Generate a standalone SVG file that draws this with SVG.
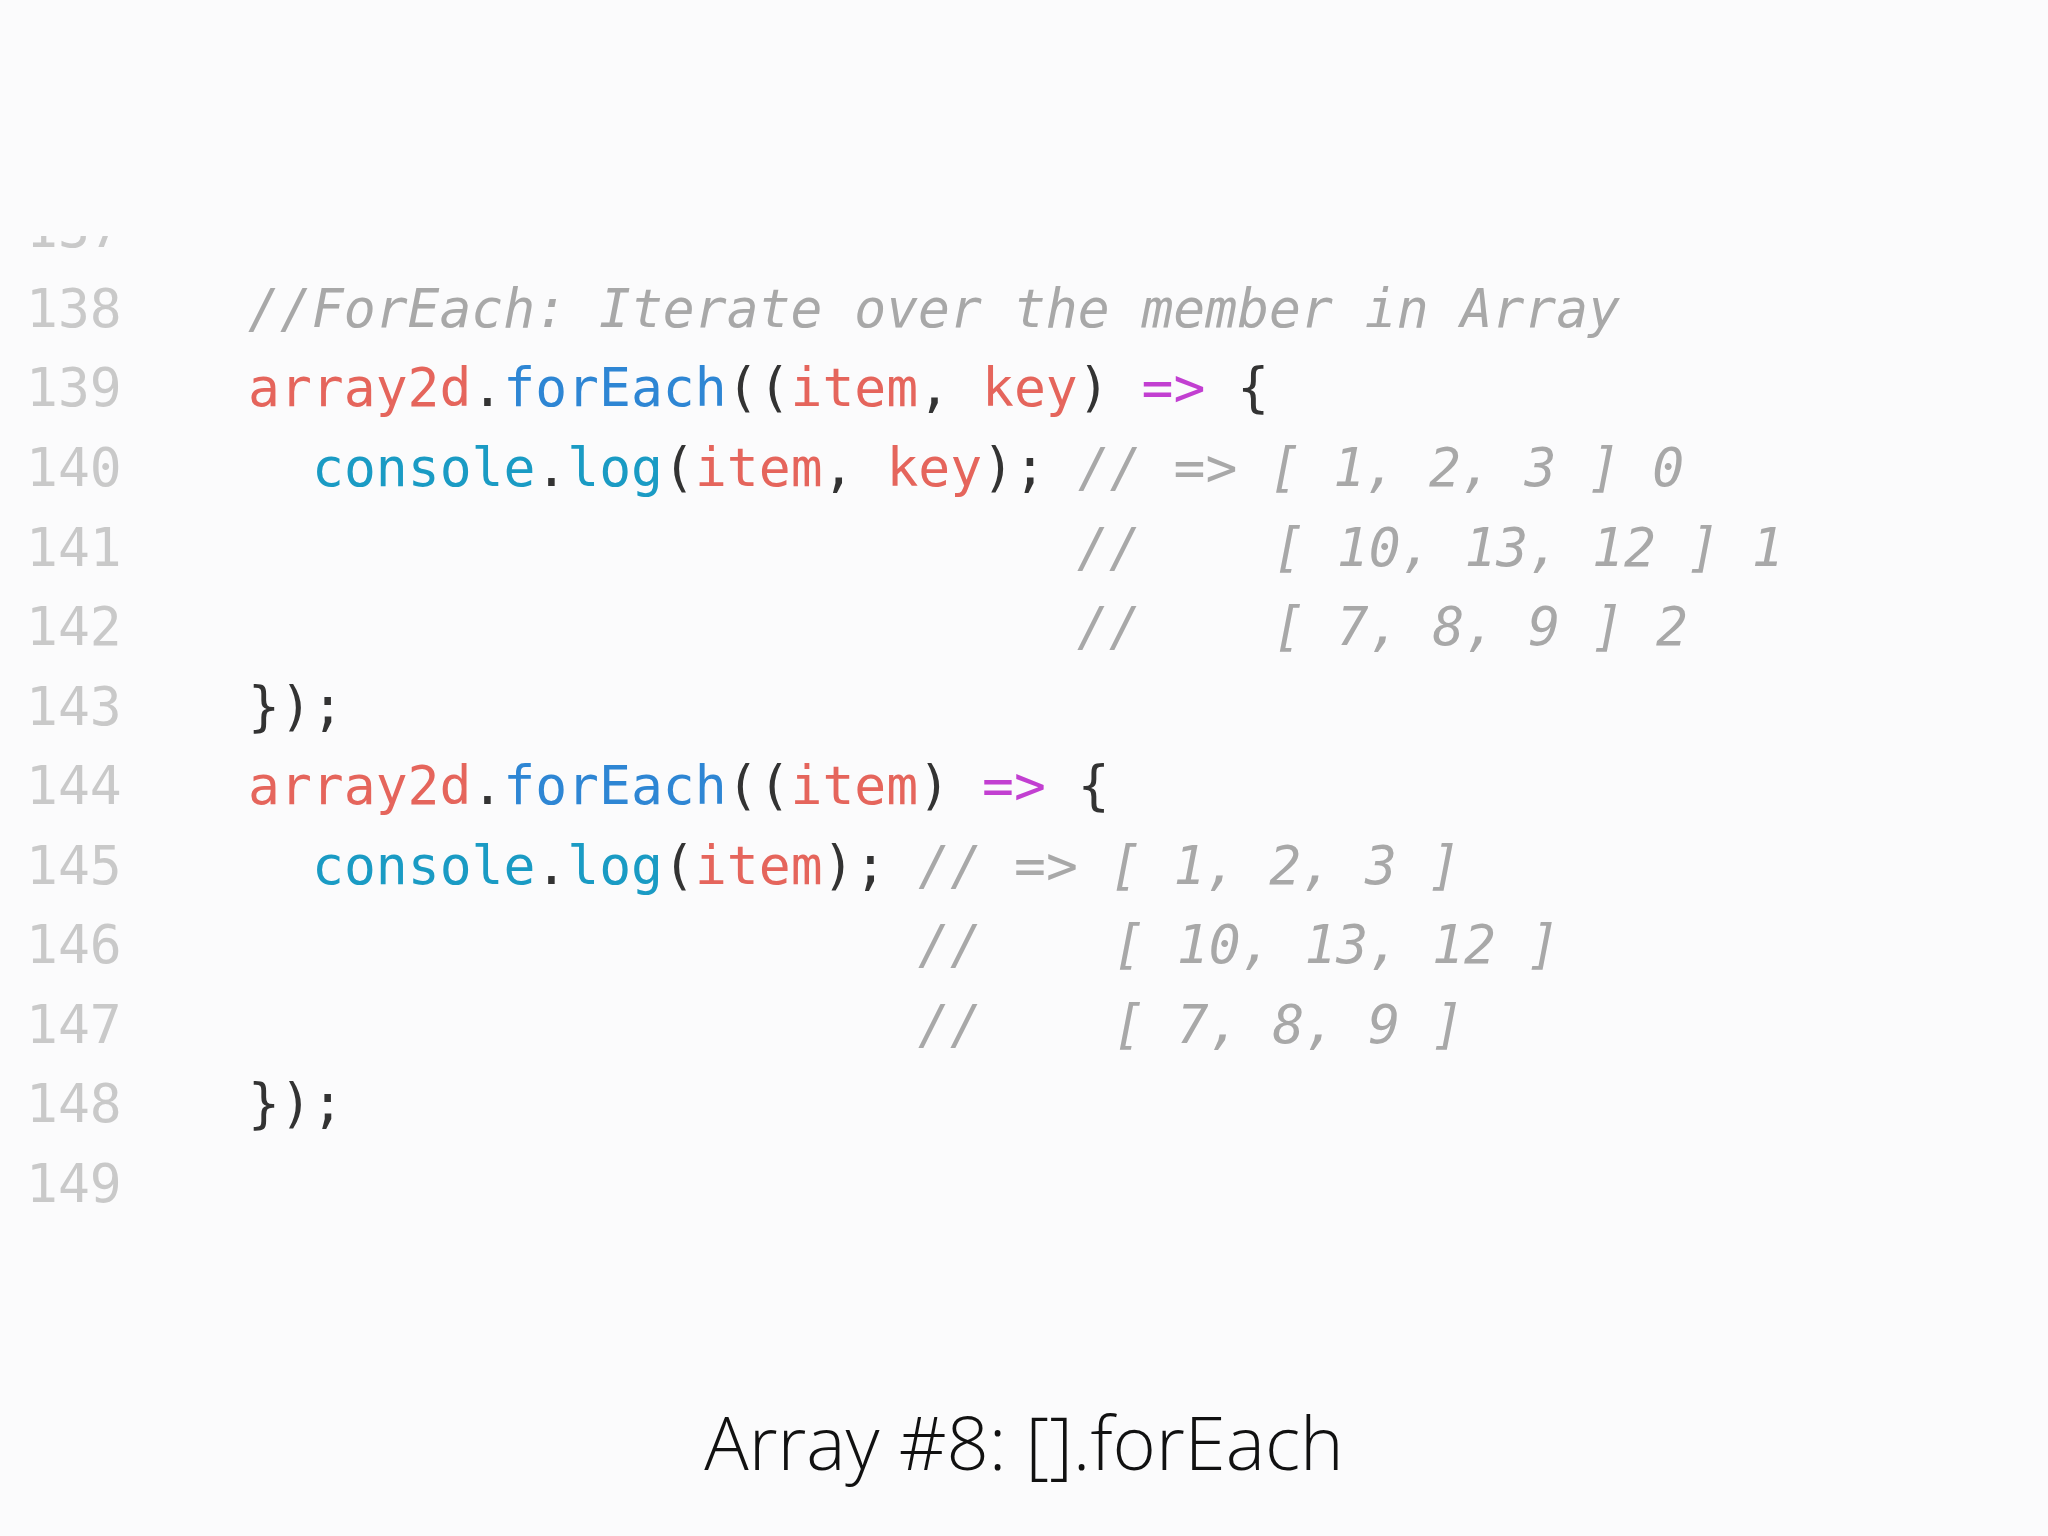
<svg xmlns="http://www.w3.org/2000/svg" width="2048" height="1536" viewBox="0 0 2048 1536">
<style>
.c{font-family:"DejaVu Sans Mono","Liberation Mono",monospace;font-size:53px}
.n{fill:#c9c9c9}
.cm{fill:#a8a8a8;font-style:italic}
.r{fill:#e5655c}
.b{fill:#2e86d4}
.t{fill:#1a9bc4}
.m{fill:#c23fd1}
.p{fill:#333}
.cap{font-family:"Open Sans",Roboto,"Liberation Sans",sans-serif;font-weight:300;font-size:74px;fill:#111}
</style>
<defs><clipPath id="cl"><rect x="0" y="236" width="300" height="40"/></clipPath></defs>
<rect width="2048" height="1536" fill="#fbfbfc"/>
<g id="linenumbers" class="c n">
<text x="26" y="247" clip-path="url(#cl)">137</text>
<text x="26" y="327">138</text>
<text x="26" y="406">139</text>
<text x="26" y="486">140</text>
<text x="26" y="566">141</text>
<text x="26" y="645">142</text>
<text x="26" y="725">143</text>
<text x="26" y="804">144</text>
<text x="26" y="884">145</text>
<text x="26" y="963">146</text>
<text x="26" y="1043">147</text>
<text x="26" y="1122">148</text>
<text x="26" y="1202">149</text>
</g>
<g id="code" class="c">
<text x="248" y="327" class="cm">//ForEach: Iterate over the member in Array</text>
<text x="248" y="406"><tspan class="r">array2d</tspan><tspan class="p">.</tspan><tspan class="b">forEach</tspan><tspan class="p">((</tspan><tspan class="r">item</tspan><tspan class="p">, </tspan><tspan class="r">key</tspan><tspan class="p">) </tspan><tspan class="m">=&gt;</tspan><tspan class="p"> {</tspan></text>
<text x="312" y="486"><tspan class="t">console</tspan><tspan class="p">.</tspan><tspan class="t">log</tspan><tspan class="p">(</tspan><tspan class="r">item</tspan><tspan class="p">, </tspan><tspan class="r">key</tspan><tspan class="p">); </tspan><tspan class="cm">// =&gt; [ 1, 2, 3 ] 0</tspan></text>
<text x="1077" y="566" class="cm">//</text><text x="1273" y="566" class="cm">[ 10, 13, 12 ] 1</text>
<text x="1077" y="645" class="cm">//</text><text x="1273" y="645" class="cm">[ 7, 8, 9 ] 2</text>
<text x="248" y="725" class="p">});</text>
<text x="248" y="804"><tspan class="r">array2d</tspan><tspan class="p">.</tspan><tspan class="b">forEach</tspan><tspan class="p">((</tspan><tspan class="r">item</tspan><tspan class="p">) </tspan><tspan class="m">=&gt;</tspan><tspan class="p"> {</tspan></text>
<text x="312" y="884"><tspan class="t">console</tspan><tspan class="p">.</tspan><tspan class="t">log</tspan><tspan class="p">(</tspan><tspan class="r">item</tspan><tspan class="p">); </tspan><tspan class="cm">// =&gt; [ 1, 2, 3 ]</tspan></text>
<text x="918" y="963" class="cm">//</text><text x="1113" y="963" class="cm">[ 10, 13, 12 ]</text>
<text x="918" y="1043" class="cm">//</text><text x="1113" y="1043" class="cm">[ 7, 8, 9 ]</text>
<text x="248" y="1122" class="p">});</text>
</g>
<text id="caption" class="cap" x="1024" y="1470" text-anchor="middle">Array #8: [].forEach</text>
</svg>
